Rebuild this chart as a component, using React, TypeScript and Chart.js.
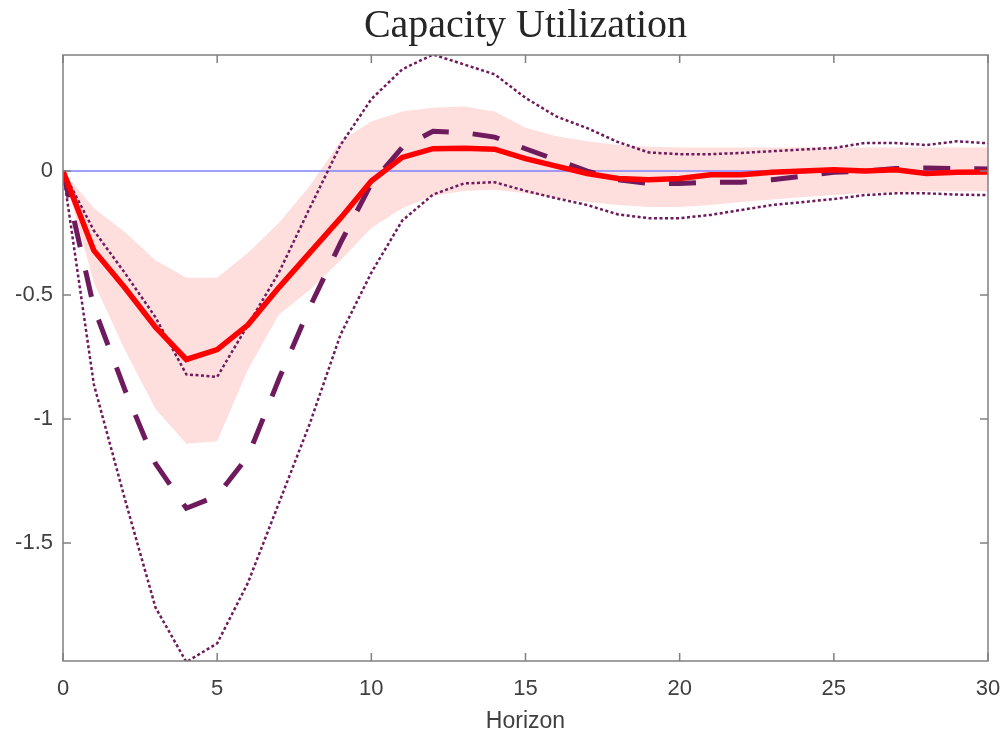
import React, { useEffect, useRef } from "react";
import { Chart, registerables } from "chart.js";

Chart.register(...registerables);

const horizon = [0, 1, 2, 3, 4, 5, 6, 7, 8, 9, 10, 11, 12, 13, 14, 15, 16, 17, 18, 19, 20, 21, 22, 23, 24, 25, 26, 27, 28, 29, 30];

const median = [0, -0.32, -0.47, -0.63, -0.76, -0.72, -0.62, -0.47, -0.33, -0.19, -0.04, 0.055, 0.09, 0.092, 0.088, 0.05, 0.02, -0.01, -0.03, -0.035, -0.03, -0.015, -0.015, -0.005, 0, 0.005, 0, 0.005, -0.01, -0.005, -0.004];

const meanResp = [0, -0.55, -0.88, -1.18, -1.36, -1.31, -1.15, -0.84, -0.55, -0.29, -0.05, 0.095, 0.16, 0.155, 0.137, 0.09, 0.045, 0, -0.035, -0.05, -0.05, -0.045, -0.045, -0.035, -0.02, -0.005, 0, 0.01, 0.012, 0.01, 0.008];

const upperDotted = [0, -0.24, -0.41, -0.59, -0.82, -0.83, -0.62, -0.41, -0.15, 0.105, 0.29, 0.41, 0.47, 0.43, 0.39, 0.295, 0.22, 0.173, 0.117, 0.075, 0.068, 0.068, 0.073, 0.08, 0.087, 0.093, 0.113, 0.113, 0.105, 0.12, 0.112];

const lowerDotted = [0, -0.86, -1.32, -1.76, -1.98, -1.905, -1.66, -1.34, -1.02, -0.66, -0.41, -0.2, -0.095, -0.05, -0.045, -0.08, -0.11, -0.137, -0.175, -0.19, -0.19, -0.177, -0.157, -0.137, -0.125, -0.113, -0.097, -0.09, -0.09, -0.095, -0.097];

const bandUpper = [0, -0.15, -0.245, -0.36, -0.43, -0.43, -0.33, -0.21, -0.06, 0.12, 0.2, 0.24, 0.255, 0.26, 0.24, 0.175, 0.14, 0.12, 0.105, 0.098, 0.095, 0.095, 0.095, 0.095, 0.095, 0.095, 0.095, 0.095, 0.095, 0.095, 0.095];

const bandLower = [0, -0.45, -0.72, -0.96, -1.1, -1.09, -0.8, -0.58, -0.48, -0.36, -0.23, -0.15, -0.1, -0.08, -0.075, -0.09, -0.11, -0.125, -0.137, -0.145, -0.145, -0.137, -0.125, -0.115, -0.105, -0.097, -0.09, -0.085, -0.082, -0.082, -0.082];

const zeroLine = [0, 0];
const zeroLineX = [0, 30];

const xTickValues = [0, 5, 10, 15, 20, 25, 30];
const yTickValues = [-1.5, -1, -0.5, 0];

const TITLE = "Capacity Utilization";
const X_TITLE = "Horizon";

const AXIS_COLOR = "#808080";
const TEXT_COLOR = "#404040";
const PURPLE = "#6e1a5c";

const toPoints = (ys: number[], xs: number[] = horizon) => ys.map((y, i) => ({ x: xs[i], y }));

const boxPlugin = {
  id: "matlabBox",
  afterDatasetsDraw(chart: any) {
    const { ctx, chartArea, scales } = chart;
    const { left, right, top, bottom } = chartArea;
    const L = 8;
    ctx.save();
    ctx.strokeStyle = AXIS_COLOR;
    ctx.lineWidth = 1.5;
    ctx.strokeRect(left, top, right - left, bottom - top);
    ctx.beginPath();
    scales.x.ticks.forEach((t: any) => {
      const px = scales.x.getPixelForValue(t.value);
      ctx.moveTo(px, bottom);
      ctx.lineTo(px, bottom - L);
      ctx.moveTo(px, top);
      ctx.lineTo(px, top + L);
    });
    scales.y.ticks.forEach((t: any) => {
      const py = scales.y.getPixelForValue(t.value);
      ctx.moveTo(left, py);
      ctx.lineTo(left + L, py);
      ctx.moveTo(right, py);
      ctx.lineTo(right - L, py);
    });
    ctx.stroke();
    ctx.restore();
  },
};

const axesTitlePlugin = {
  id: "axesTitle",
  afterDraw(chart: any) {
    const { ctx, chartArea } = chart;
    ctx.save();
    ctx.fillStyle = "#262626";
    ctx.font = "40px 'Liberation Serif', serif";
    ctx.textAlign = "center";
    ctx.textBaseline = "alphabetic";
    ctx.fillText(TITLE, (chartArea.left + chartArea.right) / 2, 37);
    ctx.restore();
  },
};

export default function App() {
  const canvasRef = useRef<HTMLCanvasElement | null>(null);

  useEffect(() => {
    if (!canvasRef.current) return;
    const chart = new Chart(canvasRef.current, {
      type: "line",
      data: {
        datasets: [
          {
            label: "median",
            data: toPoints(median),
            borderColor: "#ff0000",
            borderWidth: 5.5,
            pointRadius: 0,
            tension: 0,
            fill: false,
          },
          {
            label: "mean",
            data: toPoints(meanResp),
            borderColor: PURPLE,
            borderWidth: 5,
            borderDash: [27, 24],
            pointRadius: 0,
            tension: 0,
            fill: false,
          },
          {
            label: "upper",
            data: toPoints(upperDotted),
            borderColor: PURPLE,
            borderWidth: 2.5,
            borderDash: [3, 2.5],
            pointRadius: 0,
            tension: 0,
            fill: false,
          },
          {
            label: "lower",
            data: toPoints(lowerDotted),
            borderColor: PURPLE,
            borderWidth: 2.5,
            borderDash: [3, 2.5],
            pointRadius: 0,
            tension: 0,
            fill: false,
          },
          {
            label: "zero",
            data: toPoints(zeroLine, zeroLineX),
            borderColor: "rgb(128,128,255)",
            borderWidth: 1.5,
            pointRadius: 0,
            fill: false,
          },
          {
            label: "bandUpper",
            data: toPoints(bandUpper),
            borderColor: "rgba(0,0,0,0)",
            borderWidth: 0,
            pointRadius: 0,
            tension: 0,
            backgroundColor: "rgb(255,222,222)",
            fill: "+1",
          },
          {
            label: "bandLower",
            data: toPoints(bandLower),
            borderColor: "rgba(0,0,0,0)",
            borderWidth: 0,
            pointRadius: 0,
            tension: 0,
            fill: false,
          },
        ],
      },
      options: {
        animation: false,
        responsive: true,
        maintainAspectRatio: false,
        layout: { padding: { left: 0, right: 16, top: 55, bottom: 0 } },
        plugins: {
          legend: { display: false },
          tooltip: { enabled: false },
          title: { display: false },
        },
        scales: {
          x: {
            type: "linear",
            min: 0,
            max: 30,
            afterBuildTicks: (scale: any) => {
              scale.ticks = xTickValues.map((v) => ({ value: v }));
            },
            afterFit: (scale: any) => {
              scale.height = 74;
              scale.paddingLeft = 0;
              scale.paddingRight = 0;
            },
            grid: { display: false, drawTicks: false },
            border: { display: false },
            ticks: {
              color: TEXT_COLOR,
              font: { family: "'Liberation Sans', Arial, sans-serif", size: 22 },
              padding: 15,
              maxRotation: 0,
              callback: (v: any) => String(v),
            },
            title: {
              display: true,
              text: X_TITLE,
              color: TEXT_COLOR,
              font: { family: "'Liberation Sans', Arial, sans-serif", size: 23 },
              padding: { top: 0, bottom: 0 },
            },
          },
          y: {
            type: "linear",
            min: -1.976,
            max: 0.468,
            afterBuildTicks: (scale: any) => {
              scale.ticks = yTickValues.map((v) => ({ value: v }));
            },
            afterFit: (scale: any) => {
              scale.width = 63;
              scale.paddingTop = 0;
              scale.paddingBottom = 0;
            },
            grid: { display: false, drawTicks: false },
            border: { display: false },
            ticks: {
              color: TEXT_COLOR,
              font: { family: "'Liberation Sans', Arial, sans-serif", size: 22 },
              padding: 10,
              callback: (v: any) => String(v),
            },
          },
        },
      },
      plugins: [boxPlugin, axesTitlePlugin],
    } as any);
    return () => chart.destroy();
  }, []);

  return (
    <div style={{ position: "absolute", left: 0, top: 0, width: "1004px", height: "735px", background: "#fff" }}>
      <canvas ref={canvasRef} />
    </div>
  );
}
